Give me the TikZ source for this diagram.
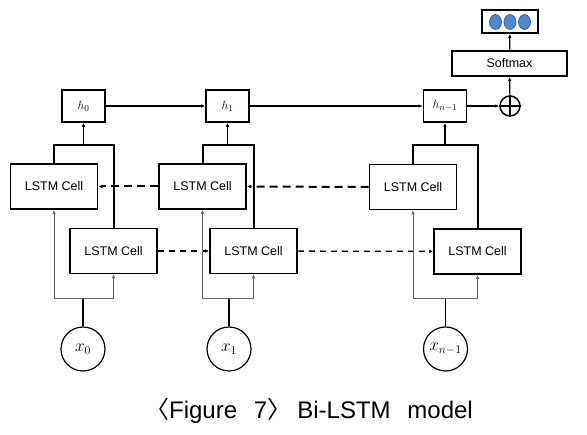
\documentclass[tikz,border=0pt]{standalone}
\usepackage{fontspec}
\setsansfont{Liberation Sans}
\newfontfamily\cjk{Noto Sans CJK KR}
\usetikzlibrary{arrows.meta}
\usetikzlibrary{shapes.geometric}

\begin{document}
\begin{tikzpicture}[x=1pt, y=-1pt,
	line join=miter,
	cell_style/.style={
	    rectangle,
	    draw=black,
	    line width=1.6pt,
	    minimum width=87pt, minimum height=45pt,
	    font=\sffamily\fontsize{12.5}{14}\selectfont
	    },
	hid_style/.style={
	    rectangle,
	    draw=black,
	    line width=1.6pt,
	    minimum width=43pt, minimum height=32pt,
	    font=\fontsize{13}{15}\selectfont
	    },
	in_style/.style={
	    circle,
	    draw=black,
	    line width=1.2pt,
	    minimum size=44pt, inner sep=0pt,
	    font=\fontsize{17}{19}\selectfont
	    },
	dot_style/.style={
	    ellipse,
	    draw={rgb,255:red,47;green,82;blue,143},
	    fill={rgb,255:red,79;green,136;blue,206},
	    line width=0.6pt,
	    minimum width=12pt, minimum height=15pt, inner sep=0pt
	    },
	tip/.style={-{Latex[length=4pt,width=3.5pt]}},
	out_edge/.style={draw=black, line width=2pt},
	h_edge/.style={draw=black, line width=1.2pt, tip},
	back_edge/.style={draw=black, line width=2pt, dash pattern=on 8pt off 5pt, tip},
	fwd_edge/.style={draw=black, line width=1.3pt, dash pattern=on 6pt off 5pt, tip},
	in_edge/.style={draw=black!60, line width=1pt, tip}
	]
	\useasboundingbox (0,0) rectangle (587,435);

	% all the nodes
	\node[hid_style] (h0) at (83.5,106) {$h_0$};
	\node[hid_style] (h1) at (227.5,106) {$h_1$};
	\node[hid_style] (hn) at (445,106) {$h_{n-1}$};
	\node[circle, draw=black, line width=1.5pt, minimum size=20pt, inner sep=0pt] (plus) at (510,106) {};
	\node[cell_style, minimum width=115pt, minimum height=25pt] (soft) at (509.5,63.5) {Softmax};
	\node[rectangle, draw=black, line width=1.6pt, minimum width=56pt, minimum height=23pt] (out) at (510,21.5) {};
	\node[dot_style] (d1) at (495.5,22) {};
	\node[dot_style] (d2) at (510,22) {};
	\node[dot_style] (d3) at (524.5,22) {};

	\node[cell_style] (b0) at (54,186.5) {LSTM Cell};
	\node[cell_style] (b1) at (202.5,186.5) {LSTM Cell};
	\node[cell_style] (b2) at (413,187) {LSTM Cell};
	\node[cell_style] (f0) at (113.5,251) {LSTM Cell};
	\node[cell_style] (f1) at (253.5,251) {LSTM Cell};
	\node[cell_style] (f2) at (477.5,251.5) {LSTM Cell};

	\node[in_style] (x0) at (83,349) {$x_0$};
	\node[in_style] (x1) at (229,349) {$x_1$};
	\node[in_style] (xn) at (445.5,349) {$x_{n-1}$};

	\coordinate (j0) at (83.5,145);
	\coordinate (j1) at (227.5,145);
	\coordinate (jn) at (445,145);
	\coordinate (i0) at (83,299);
	\coordinate (i1) at (229,299);
	\coordinate (in) at (445.5,299);

	% plus sign
	\draw[line width=1.5pt] (plus.north) -- (plus.south) (plus.west) -- (plus.east);

	% hidden states
	\draw[h_edge] (h0) -- (h1);
	\draw[h_edge] (h1) -- (hn);
	\draw[h_edge] (hn) -- (plus);
	\draw[h_edge] (plus) -- (soft);
	\draw[h_edge] (soft) -- (out);

	% cell outputs
	\draw[out_edge] (b0.north) |- (j0) -| (f0.north);
	\draw[out_edge] (b1.north) |- (j1) -| (f1.north);
	\draw[out_edge] (b2.north) |- (jn) -| (f2.north);
	\draw[h_edge] (j0) -- (h0);
	\draw[h_edge] (j1) -- (h1);
	\draw[h_edge] (jn) -- (hn);

	% recurrent links
	\draw[back_edge] (b1) -- (b0);
	\draw[back_edge] (b2) -- (b1);
	\draw[fwd_edge] (f0) -- (f1);
	\draw[fwd_edge] (f1) -- (f2);

	% inputs
	\draw[line width=1.1pt] (x0) -- (i0);
	\draw[line width=1.1pt] (x1) -- (i1);
	\draw[line width=1.1pt] (xn) -- (in);
	\draw[in_edge] (i0) -| (b0.south);
	\draw[in_edge] (i0) -| (f0.south);
	\draw[in_edge] (i1) -| (b1.south);
	\draw[in_edge] (i1) -| (f1.south);
	\draw[in_edge] (in) -| (b2.south);
	\draw[in_edge] (in) -| (f2.south);

	\node[font=\sffamily\fontsize{24}{27}\selectfont] (cap) at (309,411)
	    {{\cjk 〈}Figure\hspace{0.7em}7{\cjk 〉}\hspace{0.25em}Bi-LSTM\hspace{0.7em}model};
\end{tikzpicture}
\end{document}
